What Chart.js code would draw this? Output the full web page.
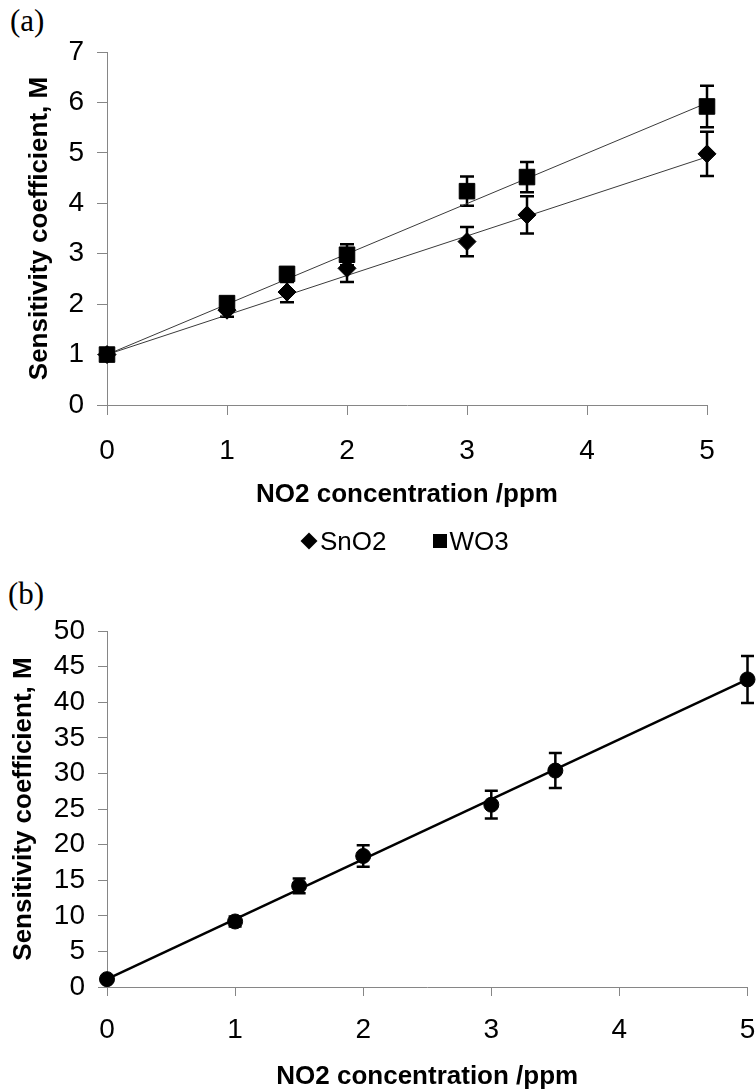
<!DOCTYPE html>
<html lang="en">
<head>
<meta charset="UTF-8">
<title>Sensitivity coefficient vs NO2 concentration</title>
<script src="https://cdn.jsdelivr.net/npm/chart.js@4.4.1/dist/chart.umd.min.js"></script>
<style>
  body { margin: 0; width: 756px; height: 1092px; background: #fff; position: relative; overflow: hidden;
         font-family: "Liberation Sans", Arial, sans-serif; }
  .panel { position: absolute; left: 0; width: 756px; }
  #wrapA { top: 0; height: 530px; }
  #wrapB { top: 600px; height: 492px; }
  .tag { position: absolute; font-family: "Liberation Serif", "Times New Roman", serif; font-size: 31px; line-height: 31px; }
  #legendA { position: absolute; top: 528px; left: 300px; height: 26px; display: flex; align-items: center;
             font-size: 26px; line-height: 26px; color: #000; }
  #legendA .item { display: flex; align-items: center; }
  #legendA .item + .item { margin-left: 46px; }
  .mk { display: inline-block; background: #000; margin-right: 3px; }
  .mk.rectRot { width: 12px; height: 12px; transform: rotate(45deg); margin: 0 5px 0 3px; }
  .mk.rect { width: 14px; height: 14px; }
</style>
</head>
<body>
<div class="tag" style="left:10px; top:5px;">(a)</div>
<div class="panel" id="wrapA"><canvas id="chartA" width="756" height="530"></canvas></div>
<div id="legendA"></div>

<div class="tag" style="left:8px; top:578px;">(b)</div>
<div class="panel" id="wrapB"><canvas id="chartB" width="756" height="492"></canvas></div>

<script>
// NO2 concentration (ppm)
const concentrations = [0, 1, 1.5, 2, 3, 3.5, 5];

// (a) sensitivity coefficient per sensor, with error bar half-widths
const sensorNames = ['SnO2', 'WO3'];
const sno2Values = [1, 1.88, 2.24, 2.71, 3.24, 3.77, 4.98];
const sno2Errors = [0, 0.13, 0.2, 0.27, 0.29, 0.37, 0.44];
const wo3Values = [1, 2.02, 2.6, 2.98, 4.24, 4.52, 5.92];
const wo3Errors = [0, 0.1, 0.12, 0.21, 0.29, 0.3, 0.41];

// linear trend lines, read at the ends of the range
const trendX = [0, 5];
const sno2Trend = [1, 4.92];
const wo3Trend = [1, 5.99];

// (b) combined sensitivity coefficient
const mValues = [1.1, 9.2, 14.2, 18.4, 25.6, 30.4, 43.2];
const mErrors = [0, 0.7, 1.05, 1.5, 1.95, 2.45, 3.3];
const mTrend = [1.1, 43.2];

const xTitle = 'NO2 concentration /ppm';
const yTitle = 'Sensitivity coefficient, M';

Chart.defaults.font.family = "'Liberation Sans', Arial, sans-serif";
Chart.defaults.color = '#000';

const axisGrey = '#868686';

function points(xs, ys) {
  return xs.map((x, i) => ({ x: x, y: ys[i] }));
}

// draws vertical error bars with caps for datasets that carry an "errors" array
const errorBars = {
  id: 'errorBars',
  beforeDatasetsDraw(chart) {
    const ctx = chart.ctx;
    const xs = chart.scales.x, ys = chart.scales.y;
    chart.data.datasets.forEach(ds => {
      if (!ds.errors) return;
      ctx.save();
      ctx.strokeStyle = '#000';
      ctx.lineWidth = ds.errorWidth || 2.5;
      const cap = ds.capHalf || 7;
      ds.data.forEach((p, i) => {
        const e = ds.errors[i];
        if (!e) return;
        const px = xs.getPixelForValue(p.x);
        const top = ys.getPixelForValue(p.y + e);
        const bot = ys.getPixelForValue(p.y - e);
        ctx.beginPath();
        ctx.moveTo(px, top); ctx.lineTo(px, bot);
        ctx.moveTo(px - cap, top); ctx.lineTo(px + cap, top);
        ctx.moveTo(px - cap, bot); ctx.lineTo(px + cap, bot);
        ctx.stroke();
      });
      ctx.restore();
    });
  }
};

function axisX(opts) {
  return {
    type: 'linear', position: 'bottom', min: 0, max: 5,
    ticks: { stepSize: 1, autoSkip: false, maxRotation: 0, padding: opts.tickPad, font: { size: 28 } },
    grid: { drawOnChartArea: false, drawTicks: true, tickLength: opts.tickLen, color: axisGrey, tickColor: axisGrey },
    border: { color: axisGrey, width: 1 },
    title: { display: true, text: xTitle, font: { size: 26, weight: 'bold' }, padding: { top: 0, bottom: opts.titlePad } },
    afterFit(s) { s.height = opts.height; s.paddingLeft = 0; s.paddingRight = 0; }
  };
}

function axisY(opts) {
  return {
    type: 'linear', min: 0, max: opts.max,
    ticks: { stepSize: opts.step, autoSkip: false, padding: 13, font: { size: 28 } },
    grid: { drawOnChartArea: false, drawTicks: true, tickLength: opts.tickLen, color: axisGrey, tickColor: axisGrey },
    border: { color: axisGrey, width: 1 },
    title: { display: true, text: yTitle, font: { size: 26, weight: 'bold' }, padding: { top: opts.titlePad, bottom: 0 } },
    afterFit(s) { s.width = 107; }
  };
}

// (a) SnO2 and WO3
new Chart(document.getElementById('chartA'), {
  type: 'scatter',
  data: {
    datasets: [
      { label: sensorNames[0] + ' trend', data: points(trendX, sno2Trend), showLine: true,
        borderColor: '#3a3a3a', borderWidth: 1, pointRadius: 0, order: 1 },
      { label: sensorNames[1] + ' trend', data: points(trendX, wo3Trend), showLine: true,
        borderColor: '#3a3a3a', borderWidth: 1, pointRadius: 0, order: 1 },
      { label: sensorNames[0], data: points(concentrations, sno2Values), errors: sno2Errors,
        pointStyle: 'rectRot', pointRadius: 9, backgroundColor: '#000', borderColor: '#000', order: 0, clip: false },
      { label: sensorNames[1], data: points(concentrations, wo3Values), errors: wo3Errors,
        pointStyle: 'rect', pointRadius: 11, backgroundColor: '#000', borderColor: '#000', order: 0, clip: false }
    ]
  },
  options: {
    responsive: false,
    animation: false,
    layout: { padding: { top: 52, right: 49, left: 0, bottom: 0 } },
    plugins: { legend: { display: false }, tooltip: { enabled: false } },
    scales: {
      x: axisX({ tickPad: 19, tickLen: 10, titlePad: 20, height: 125 }),
      y: axisY({ max: 7, step: 1, tickLen: 10, titlePad: 24 })
    }
  },
  plugins: [errorBars]
});

// HTML legend for (a)
const legendA = document.getElementById('legendA');
const markerStyles = ['rectRot', 'rect'];
sensorNames.forEach((name, i) => {
  const item = document.createElement('span');
  item.className = 'item';
  const mk = document.createElement('span');
  mk.className = 'mk ' + markerStyles[i];
  const txt = document.createElement('span');
  txt.textContent = name;
  item.appendChild(mk);
  item.appendChild(txt);
  legendA.appendChild(item);
});

// (b) combined response
new Chart(document.getElementById('chartB'), {
  type: 'scatter',
  data: {
    datasets: [
      { label: 'M trend', data: points(trendX, mTrend), showLine: true,
        borderColor: '#000', borderWidth: 2.5, pointRadius: 0, order: 1 },
      { label: 'M', data: points(concentrations, mValues), errors: mErrors, capHalf: 6.5,
        pointStyle: 'circle', pointRadius: 7.5, backgroundColor: '#000', borderColor: '#000', order: 0, clip: false }
    ]
  },
  options: {
    responsive: false,
    animation: false,
    layout: { padding: { top: 31, right: 7, left: 0, bottom: 0 } },
    plugins: { legend: { display: false }, tooltip: { enabled: false } },
    scales: {
      x: axisX({ tickPad: 17, tickLen: 9, titlePad: 0, height: 105 }),
      y: axisY({ max: 50, step: 5, tickLen: 9, titlePad: 8 })
    }
  },
  plugins: [errorBars]
});
</script>
</body>
</html>
